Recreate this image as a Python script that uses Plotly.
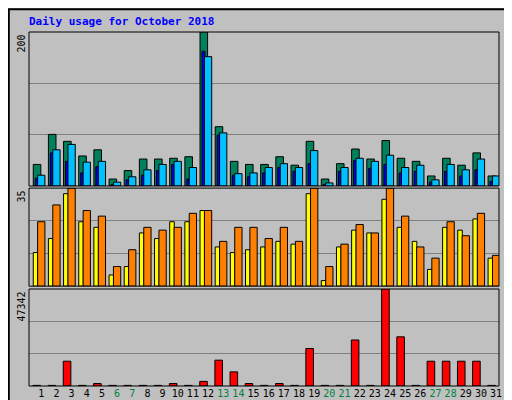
import plotly.graph_objects as go

days = list(range(1, 32))
weekend = [6, 7, 13, 14, 20, 21, 27, 28]

hits = [28, 67, 58, 39, 47, 9, 20, 35, 35, 36, 38, 200, 77, 32, 28, 28, 38, 27, 58, 9,
        29, 48, 35, 59, 36, 32, 13, 36, 27, 43, 13]
pages = [14, 47, 54, 31, 32, 5, 12, 21, 28, 32, 24, 168, 69, 16, 17, 24, 29, 24, 46, 4,
         24, 36, 32, 40, 24, 27, 8, 28, 21, 35, 13]
files = [10, 43, 32, 17, 25, 2, 8, 14, 20, 28, 9, 175, 66, 14, 12, 17, 24, 19, 29, 2,
         19, 33, 23, 28, 17, 19, 5, 19, 13, 21, 6]

visits = [12, 17, 33, 23, 21, 4, 7, 19, 17, 23, 23, 27, 14, 12, 13, 14, 16, 15, 33, 2,
          14, 20, 19, 31, 21, 16, 6, 21, 20, 24, 10]
sites = [23, 29, 35, 27, 25, 7, 13, 21, 20, 21, 26, 27, 16, 21, 21, 17, 21, 16, 35, 7,
         15, 22, 19, 35, 25, 14, 10, 23, 18, 26, 11]

kbytes = [300, 300, 12100, 300, 1200, 300, 300, 300, 300, 1200, 300, 2250, 12600, 6900,
          1200, 300, 1200, 300, 18300, 300, 300, 22460, 300, 47342, 24000, 300, 12100,
          12100, 12100, 12100, 300]

max_hits, max_visits, max_kb = 200, 35, 47342

C_HITS, C_FILES, C_PAGES = "#00805c", "#0000ff", "#00c0ff"
C_VISITS, C_SITES, C_KB = "#ffff00", "#ff8000", "#ff0000"

fig = go.Figure()

def bars(y, color, offset, width, yaxis):
    fig.add_trace(go.Bar(x=days, y=y, offset=offset, width=width, marker_color=color,
                         marker_line=dict(color="black", width=1), yaxis=yaxis,
                         showlegend=False, hoverinfo="skip"))

bars(hits, C_HITS, -0.53, 0.5, "y")
bars(files, C_FILES, -0.40, 0.2, "y")
bars(pages, C_PAGES, -0.24, 0.48, "y")
bars(visits, C_VISITS, -0.53, 0.3, "y2")
bars(sites, C_SITES, -0.24, 0.48, "y2")
bars(kbytes, C_KB, -0.55, 0.5, "y3")

ticktext = [f"<span style='color:#008040'>{d}</span>" if d in weekend else str(d) for d in days]

grid = dict(showticklabels=False, ticks="", showgrid=True, gridcolor="#808080", gridwidth=1,
            zeroline=False, showline=False, fixedrange=True)

fig.update_layout(
    width=512, height=400, barmode="overlay",
    paper_bgcolor="#c0c0c0", plot_bgcolor="#c0c0c0",
    margin=dict(l=21, r=21, t=24, b=22, autoexpand=False),
    font=dict(family="DejaVu Sans Mono", size=11, color="black"),
    xaxis=dict(range=[0.19, 31.19], tickvals=days, ticktext=ticktext, ticks="",
               tickangle=0, showgrid=False, zeroline=False, anchor="y3",
               tickfont=dict(size=10)),
    yaxis=dict(domain=[0.565, 1], range=[0, max_hits],
               tickvals=[max_hits / 3, max_hits * 2 / 3], **grid),
    yaxis2=dict(domain=[0.282, 0.559], range=[0, max_visits],
                tickvals=[max_visits / 3, max_visits * 2 / 3], **grid),
    yaxis3=dict(domain=[0, 0.274], range=[0, max_kb],
                tickvals=[max_kb / 3, max_kb * 2 / 3], **grid),
)

# panel borders
for y0, y1 in [(0.565, 1), (0.282, 0.559), (0, 0.274)]:
    fig.add_shape(type="rect", xref="paper", yref="paper", x0=0, x1=1, y0=y0, y1=y1,
                  line=dict(color="black", width=1))
# outer frame
fig.add_shape(type="rect", xref="paper", yref="paper", x0=-0.043, x1=1.039, y0=-0.06, y1=1.064,
              line=dict(color="black", width=2))

fig.add_annotation(text="<b>Daily usage for October 2018</b>", xref="paper", yref="paper",
                   x=-0.005, y=1.03, xanchor="left", yanchor="middle", showarrow=False,
                   font=dict(color="#0000ff", size=11))

for txt, ytop in [(str(max_hits), 1), (str(max_visits), 0.559), (str(max_kb), 0.274)]:
    fig.add_annotation(text=txt, xref="paper", yref="paper", x=-0.016, y=ytop, xanchor="center",
                       yanchor="top", textangle=-90, showarrow=False, font=dict(size=10))

def sp(t, c):
    return f"<span style='color:{c}'>{t}</span>"

legends = [
    (sp("Pages", C_PAGES) + " / " + sp("Files", C_FILES) + " / " + sp("Hits", C_HITS), 1),
    (sp("Sites", C_SITES) + " / " + sp("Visits", C_VISITS), 0.559),
    (sp("kB F", C_KB) + " / " + sp("kB In", C_FILES) + " / " + sp("kB Out", "#008040"), 0.274),
]
for txt, ytop in legends:
    fig.add_annotation(text=txt, xref="paper", yref="paper", x=1.021, y=ytop, xanchor="center",
                       yanchor="top", textangle=-90, showarrow=False, font=dict(size=10))

fig.write_html("out.html")
